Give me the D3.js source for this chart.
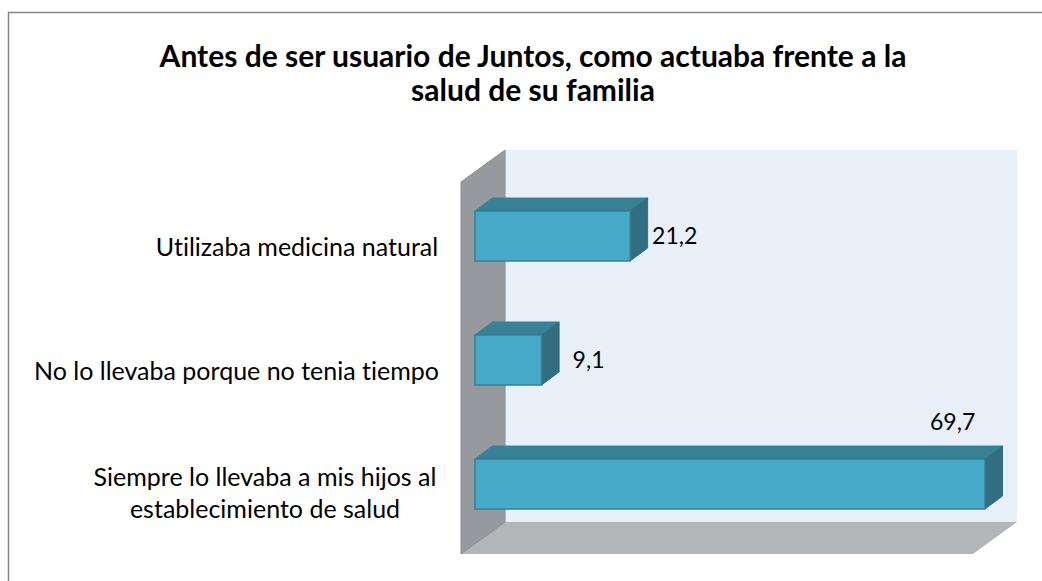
<!DOCTYPE html>
<html>
<head>
<meta charset="utf-8">
<script src="https://cdn.jsdelivr.net/npm/d3@7"></script>
<style>
  html, body { margin: 0; padding: 0; background: #fff; }
  svg { display: block; }
  text { font-family: Lato, "Open Sans", sans-serif; fill: #000; font-variant-ligatures: none; }
</style>
</head>
<body>
<div id="chart"></div>
<script>
/* 3D-look horizontal bar chart */

const width = 1042, height = 581;

const titleLines = ["Antes de ser usuario de Juntos, como actuaba frente a la", "salud de su familia"];
const categories = ["Utilizaba medicina natural", "No lo llevaba porque no tenia tiempo", "Siempre lo llevaba a mis hijos al establecimiento de salud"];
const categoryLines = [["Utilizaba medicina natural"], ["No lo llevaba porque no tenia tiempo"], ["Siempre lo llevaba a mis hijos al", "establecimiento de salud"]];
const values = [21.2, 9.1, 69.7];
const valueLabels = ["21,2", "9,1", "69,7"];

const svg = d3.select("#chart")
  .append("svg")
  .attr("width", width)
  .attr("height", height)
  .attr("viewBox", [0, 0, width, height]);

// outer frame
svg.append("path")
  .attr("d", "M8.5,581V12.5H1042")
  .attr("fill", "none")
  .attr("stroke", "#868686")
  .attr("stroke-width", 1.5);

// plot box: back wall, side wall, floor
const wall = { x0: 505, x1: 1017, y0: 150, y1: 522 };
const depth = { dx: 44, dy: 32 };

svg.append("rect")
  .attr("x", wall.x0).attr("y", wall.y0)
  .attr("width", wall.x1 - wall.x0).attr("height", wall.y1 - wall.y0)
  .attr("fill", "#e8eff6");

const poly = d3.line();

svg.append("path")
  .attr("d", poly([[wall.x0, wall.y1], [wall.x1, wall.y1], [wall.x1 - depth.dx, wall.y1 + depth.dy], [wall.x0 - depth.dx, wall.y1 + depth.dy]]) + "Z")
  .attr("fill", "#b3b6b9");

svg.append("path")
  .attr("d", poly([[wall.x0, wall.y0], [wall.x0, wall.y1], [wall.x0 - depth.dx, wall.y1 + depth.dy], [wall.x0 - depth.dx, wall.y0 + depth.dy]]) + "Z")
  .attr("fill", "#96999d")
  .attr("stroke", "#8a8c8f")
  .attr("stroke-width", 1);

let x = d3.scaleLinear()
  .domain([0, 69.7])
  .range([475, 985]);

let y = d3.scaleBand()
  .domain(categories)
  .range([149, 571])
  .paddingInner(0.597)
  .paddingOuter(0.5);

const barDepth = { dx: 17.5, dy: 13 };

const bars = svg.selectAll("g.bar")
  .data(categories)
  .join("g")
  .attr("class", "bar");

// top face
bars.append("path")
  .attr("d", (d, i) => {
    let x0 = x(0), x1 = x(values[i]), t = y(d);
    return poly([[x0, t], [x0 + barDepth.dx, t - barDepth.dy], [x1 + barDepth.dx, t - barDepth.dy], [x1, t]]) + "Z";
  })
  .attr("fill", "#388197")
  .attr("stroke", "#35809a")
  .attr("stroke-width", 1);

// right face
bars.append("path")
  .attr("d", (d, i) => {
    let x1 = x(values[i]), t = y(d), b = t + y.bandwidth();
    return poly([[x1, t], [x1 + barDepth.dx, t - barDepth.dy], [x1 + barDepth.dx, b - barDepth.dy], [x1, b]]) + "Z";
  })
  .attr("fill", "#316f80")
  .attr("stroke", "#316f80")
  .attr("stroke-width", 1);

// front face
bars.append("rect")
  .attr("x", x(0))
  .attr("y", d => y(d))
  .attr("width", (d, i) => x(values[i]) - x(0))
  .attr("height", y.bandwidth())
  .attr("fill", "#47abc7")
  .attr("stroke", "#357f96")
  .attr("stroke-width", 1.5);

// value labels
const labelPos = [{ dx: 22, dy: 0 }, { dx: 31, dy: 0 }, { dx: -55, dy: -62 }];

svg.selectAll("text.value")
  .data(categories)
  .join("text")
  .attr("class", "value")
  .attr("x", (d, i) => x(values[i]) + labelPos[i].dx)
  .attr("y", (d, i) => y(d) + y.bandwidth() / 2 + labelPos[i].dy)
  .attr("dy", "0.35em")
  .attr("font-size", 23)
  .text((d, i) => valueLabels[i]);

// category labels
const labelCenters = [297, 236.5, 265];
const labelShift = [20, 20, 18];

svg.selectAll("text.cat")
  .data(categories)
  .join("text")
  .attr("class", "cat")
  .attr("text-anchor", "middle")
  .attr("font-size", 25)
  .each(function (d, i) {
    let lines = categoryLines[i];
    d3.select(this).selectAll("tspan")
      .data(lines)
      .join("tspan")
      .attr("x", labelCenters[i])
      .attr("y", (l, j) => y(d) + y.bandwidth() / 2 + labelShift[i] + (j - (lines.length - 1) / 2) * 32)
      .text(l => l);
  });

// title
svg.append("text")
  .attr("text-anchor", "middle")
  .attr("font-weight", 700)
  .attr("font-size", 30)
  .selectAll("tspan")
  .data(titleLines)
  .join("tspan")
  .attr("x", 533)
  .attr("y", (d, i) => 67 + i * 34)
  .text(d => d);
</script>
</body>
</html>
